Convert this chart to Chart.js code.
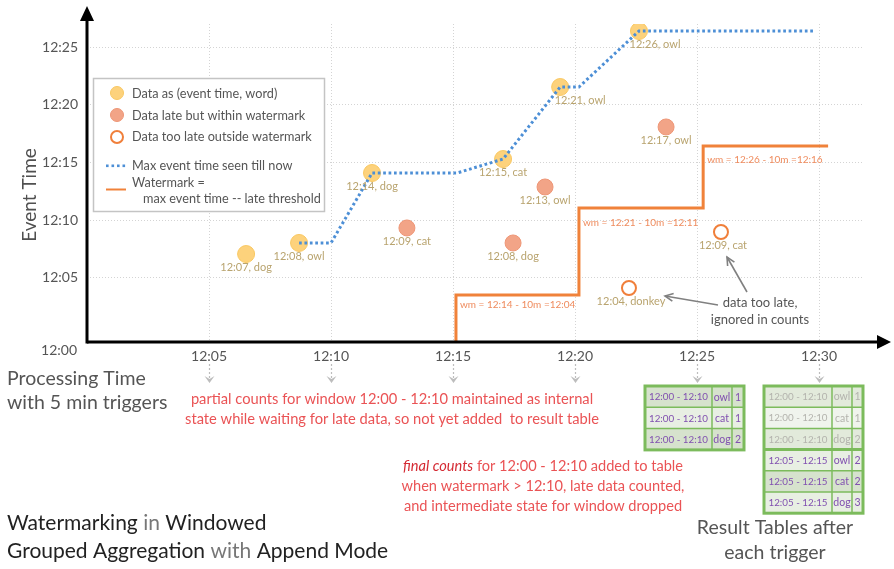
<!DOCTYPE html>
<html>
<head>
<meta charset="utf-8">
<script src="https://cdn.jsdelivr.net/npm/chart.js@4.4.1/dist/chart.umd.min.js"></script>
<style>
  html, body { margin: 0; padding: 0; background: #ffffff; }
  #wrap { position: relative; width: 894px; height: 569px; }
</style>
</head>
<body>
<div id="wrap"><canvas id="c"></canvas></div>
<script>
// ---------- data (minutes after 12:00) ----------
const xTickValues = [5, 10, 15, 20, 25, 30];
const xTickLabels = ['12:05', '12:10', '12:15', '12:20', '12:25', '12:30'];
const yTickValues = [5, 10, 15, 20, 25];
const yTickLabels = ['12:05', '12:10', '12:15', '12:20', '12:25'];
const originLabel = '12:00';

// on-time data: processing time / event time
const onTimeProc  = [6.52, 8.69, 11.68, 17.05, 19.39, 22.62];
const onTimeEvent = [7.07, 8.03, 14.09, 15.30, 21.54, 26.39];
const onTimeLabels = ['12:07, dog', '12:08, owl', '12:14, dog', '12:15, cat', '12:21, owl', '12:26, owl'];

// late but within watermark
const lateProc  = [13.11, 17.46, 18.77, 23.73];
const lateEvent = [9.33, 8.03, 12.88, 18.08];
const lateLabels = ['12:09, cat', '12:08, dog', '12:13, owl', '12:17, owl'];

// too late, outside watermark
const droppedProc  = [22.21, 25.98];
const droppedEvent = [4.13, 8.98];
const droppedLabels = ['12:04, donkey', '12:09, cat'];

// max event time seen till now
const maxEventProc  = [8.69, 10.0, 11.68, 15.16, 17.05, 19.39, 20.16, 22.62, 29.8];
const maxEventValue = [8.03, 8.03, 14.09, 14.09, 15.30, 21.54, 21.54, 26.39, 26.39];

// watermark step line
const watermarkProc  = [15.12, 15.12, 20.16, 20.16, 25.25, 25.25, 30.37];
const watermarkValue = [-0.55, 3.52, 3.52, 11.06, 11.06, 16.43, 16.43];
const watermarkLabels = ['wm = 12:14 - 10m =12:04', 'wm = 12:21 - 10m =12:11', 'wm = 12:26 - 10m =12:16'];

// legend texts
const legendTexts = ['Data as (event time, word)', 'Data late but within watermark', 'Data too late outside watermark',
  'Max event time seen till now', 'Watermark =', 'max event time -- late threshold'];

// result tables
const table1Rows = [['12:00 - 12:10', 'owl', '1'], ['12:00 - 12:10', 'cat', '1'], ['12:00 - 12:10', 'dog', '2']];
const table2Rows = [['12:00 - 12:10', 'owl', '1'], ['12:00 - 12:10', 'cat', '1'], ['12:00 - 12:10', 'dog', '2'],
                    ['12:05 - 12:15', 'owl', '2'], ['12:05 - 12:15', 'cat', '2'], ['12:05 - 12:15', 'dog', '3']];

// ---------- helpers ----------
const toXY = (xs, ys) => xs.map((x, i) => ({ x: x, y: ys[i] }));
const FONT = 'Lato, "Open Sans", sans-serif';
Chart.defaults.font.family = FONT;

function arrowHead(ctx, x1, y1, x2, y2, size) {
  const a = Math.atan2(y2 - y1, x2 - x1);
  ctx.beginPath();
  ctx.moveTo(x2 - size * Math.cos(a - 0.45), y2 - size * Math.sin(a - 0.45));
  ctx.lineTo(x2, y2);
  ctx.lineTo(x2 - size * Math.cos(a + 0.45), y2 - size * Math.sin(a + 0.45));
  ctx.stroke();
}

const decorPlugin = {
  id: 'decor',
  afterDatasetsDraw(chart) {
    const ctx = chart.ctx;
    const xs = chart.scales.x, ys = chart.scales.y;
    ctx.save();
    ctx.textBaseline = 'middle';
    // point labels
    ctx.font = '11px ' + FONT;
    ctx.fillStyle = '#b9a46f';
    ctx.textAlign = 'center';
    const shiftOnTime = [0, 0, 0, 0, 20, 16];
    onTimeLabels.forEach((t, i) => {
      ctx.fillText(t, xs.getPixelForValue(onTimeProc[i]) + shiftOnTime[i], ys.getPixelForValue(onTimeEvent[i]) + 13);
    });
    lateLabels.forEach((t, i) => {
      ctx.fillText(t, xs.getPixelForValue(lateProc[i]), ys.getPixelForValue(lateEvent[i]) + 13);
    });
    droppedLabels.forEach((t, i) => {
      ctx.fillText(t, xs.getPixelForValue(droppedProc[i]) + 2, ys.getPixelForValue(droppedEvent[i]) + 13);
    });
    // watermark labels
    ctx.font = '10px ' + FONT;
    ctx.fillStyle = '#ef8c5e';
    ctx.textAlign = 'left';
    const wmDy = [10, 15, 14];
    watermarkLabels.forEach((t, k) => {
      const i = 1 + 2 * k;
      ctx.fillText(t, xs.getPixelForValue(watermarkProc[i]) + 4, ys.getPixelForValue(watermarkValue[i]) + wmDy[k]);
    });
    ctx.restore();
  },
  afterDraw(chart) {
    const ctx = chart.ctx;
    const xs = chart.scales.x;
    const ca = chart.chartArea;
    ctx.save();

    // axes with arrows
    ctx.strokeStyle = '#000'; ctx.fillStyle = '#000'; ctx.lineWidth = 3;
    ctx.beginPath(); ctx.moveTo(ca.left, ca.bottom); ctx.lineTo(880, ca.bottom); ctx.stroke();
    ctx.beginPath(); ctx.moveTo(891, ca.bottom); ctx.lineTo(877, ca.bottom - 7); ctx.lineTo(877, ca.bottom + 7); ctx.closePath(); ctx.fill();
    ctx.beginPath(); ctx.moveTo(ca.left, ca.bottom + 1.5); ctx.lineTo(ca.left, 18); ctx.stroke();
    ctx.beginPath(); ctx.moveTo(ca.left, 6); ctx.lineTo(ca.left - 7, 21); ctx.lineTo(ca.left + 7, 21); ctx.closePath(); ctx.fill();

    // origin label
    ctx.textBaseline = 'middle';
    ctx.font = '14px ' + FONT; ctx.fillStyle = '#555'; ctx.textAlign = 'right';
    ctx.fillText(originLabel, 77, 350);

    // y axis title
    ctx.save();
    ctx.translate(30, 195); ctx.rotate(-Math.PI / 2);
    ctx.textAlign = 'center'; ctx.font = '19px ' + FONT; ctx.fillStyle = '#505050';
    ctx.fillText('Event Time', 0, 0);
    ctx.restore();

    // trigger arrows under x ticks
    ctx.strokeStyle = '#bdbdbd'; ctx.fillStyle = '#bdbdbd'; ctx.lineWidth = 1.2;
    xTickValues.forEach(v => {
      const px = Math.round(xs.getPixelForValue(v)) + 0.5;
      ctx.setLineDash([2, 2]);
      ctx.beginPath(); ctx.moveTo(px, 364); ctx.lineTo(px, 380); ctx.stroke();
      ctx.setLineDash([]);
      ctx.beginPath(); ctx.moveTo(px - 5, 376); ctx.lineTo(px, 383); ctx.lineTo(px + 5, 376); ctx.lineTo(px, 379); ctx.closePath(); ctx.fill();
    });

    // legend box
    ctx.fillStyle = '#ffffff'; ctx.strokeStyle = '#c4c4c4'; ctx.lineWidth = 1.5;
    ctx.fillRect(93, 78, 231, 133); ctx.strokeRect(93.5, 78.5, 231, 133);
    ctx.beginPath(); ctx.arc(117, 93, 6.5, 0, Math.PI * 2); ctx.fillStyle = '#fdd27c'; ctx.fill();
    ctx.lineWidth = 1; ctx.strokeStyle = '#f9c862'; ctx.stroke();
    ctx.beginPath(); ctx.arc(117, 115, 6.5, 0, Math.PI * 2); ctx.fillStyle = '#f2a487'; ctx.fill();
    ctx.strokeStyle = '#ee9676'; ctx.stroke();
    ctx.beginPath(); ctx.arc(117, 137, 6, 0, Math.PI * 2); ctx.fillStyle = '#fff'; ctx.fill();
    ctx.lineWidth = 2; ctx.strokeStyle = '#f07f3a'; ctx.stroke();
    ctx.fillStyle = '#4d8fd6';
    for (let k = 0; k < 4; k++) ctx.fillRect(106 + k * 5.5, 164.5, 2.6, 2.6);
    ctx.strokeStyle = '#f0823a'; ctx.lineWidth = 2;
    ctx.beginPath(); ctx.moveTo(106, 189.5); ctx.lineTo(126, 189.5); ctx.stroke();
    ctx.font = '12.7px ' + FONT; ctx.fillStyle = '#555'; ctx.textAlign = 'left';
    ctx.fillText(legendTexts[0], 132, 94);
    ctx.fillText(legendTexts[1], 132, 116);
    ctx.fillText(legendTexts[2], 132, 137);
    ctx.fillText(legendTexts[3], 132, 166);
    ctx.fillText(legendTexts[4], 132, 183);
    ctx.fillText(legendTexts[5], 143, 199);

    // "data too late" annotation
    ctx.font = '13px ' + FONT; ctx.fillStyle = '#555'; ctx.textAlign = 'center';
    ctx.fillText('data too late,', 760, 303);
    ctx.fillText('ignored in counts', 760, 320);
    ctx.strokeStyle = '#808080'; ctx.lineWidth = 1.6;
    ctx.beginPath(); ctx.moveTo(718, 305); ctx.lineTo(665, 296); ctx.stroke();
    arrowHead(ctx, 718, 305, 665, 296, 9);
    ctx.beginPath(); ctx.moveTo(747, 292); ctx.lineTo(727, 257); ctx.stroke();
    arrowHead(ctx, 747, 292, 727, 257, 9);

    // bottom-left texts
    ctx.textAlign = 'left';
    ctx.font = '19.5px ' + FONT; ctx.fillStyle = '#555';
    ctx.fillText('Processing Time', 7, 379);
    ctx.fillText('with 5 min triggers', 7, 403);

    // title
    ctx.font = '21px ' + FONT;
    const drawParts = (parts, x, y) => {
      parts.forEach(p => { ctx.fillStyle = p[1]; ctx.fillText(p[0], x, y); x += ctx.measureText(p[0]).width; });
    };
    drawParts([['Watermarking', '#222'], [' in ', '#777'], ['Windowed', '#222']], 7, 523);
    drawParts([['Grouped Aggregation', '#222'], [' with ', '#777'], ['Append Mode', '#222']], 7, 551);

    // red explanations
    ctx.font = '14.7px ' + FONT; ctx.fillStyle = '#ea5355'; ctx.textAlign = 'center';
    ctx.fillText('partial counts for window 12:00 - 12:10 maintained as internal', 392, 399);
    ctx.fillText('state while waiting for late data, so not yet added  to result table', 392, 419);
    ctx.textAlign = 'left';
    const l1a = 'final counts', l1b = ' for 12:00 - 12:10 added to table';
    ctx.font = 'italic 14.6px ' + FONT; const wa = ctx.measureText(l1a).width;
    ctx.font = '14.6px ' + FONT; const wb = ctx.measureText(l1b).width;
    const sx = 543 - (wa + wb) / 2;
    ctx.font = 'italic 14.6px ' + FONT; ctx.fillStyle = '#d42a33'; ctx.fillText(l1a, sx, 466);
    ctx.font = '14.6px ' + FONT; ctx.fillStyle = '#ea5355'; ctx.fillText(l1b, sx + wa, 466);
    ctx.textAlign = 'center';
    ctx.fillText('when watermark > 12:10, late data counted,', 543, 486);
    ctx.fillText('and intermediate state for window dropped', 543, 506);

    // result tables
    const drawTable = (rows, x0, y0, colW, rowH, fadedRows) => {
      const w = colW.reduce((a, b) => a + b, 0);
      rows.forEach((r, i) => {
        const faded = i < fadedRows;
        ctx.fillStyle = faded ? (i % 2 ? '#f0f4ed' : '#e2eadb') : (i % 2 ? '#e8efe3' : '#d6e2cd');
        ctx.fillRect(x0, y0 + i * rowH, w, rowH);
        ctx.textAlign = 'center';
        ctx.fillStyle = faded ? '#b3b3ad' : '#8150b0';
        let cx = x0;
        r.forEach((cell, j) => {
          ctx.font = (j === 0 ? '9.8px ' : '10.5px ') + FONT;
          ctx.fillText(cell, cx + colW[j] / 2, y0 + i * rowH + rowH / 2 + 0.5);
          cx += colW[j];
        });
      });
      ctx.strokeStyle = '#7cbb5c';
      for (let i = 1; i < rows.length; i++) {
        ctx.lineWidth = (fadedRows && i === fadedRows) ? 3 : 1.5;
        ctx.beginPath(); ctx.moveTo(x0, y0 + i * rowH); ctx.lineTo(x0 + w, y0 + i * rowH); ctx.stroke();
      }
      ctx.lineWidth = 1.5;
      let cx = x0;
      for (let j = 0; j < colW.length - 1; j++) {
        cx += colW[j];
        ctx.beginPath(); ctx.moveTo(cx, y0); ctx.lineTo(cx, y0 + rows.length * rowH); ctx.stroke();
      }
      ctx.lineWidth = 3;
      ctx.strokeRect(x0, y0, w, rows.length * rowH);
    };
    drawTable(table1Rows, 645, 386, [67, 20, 12], 21.3, 0);
    drawTable(table2Rows, 764, 386, [68, 20, 11], 21.2, 3);

    ctx.font = '19.5px ' + FONT; ctx.fillStyle = '#555'; ctx.textAlign = 'center';
    ctx.fillText('Result Tables after', 775, 528);
    ctx.fillText('each trigger', 775, 553);

    ctx.restore();
  }
};

const gridStyle = { color: '#d4d4d4', lineWidth: 1, drawTicks: false, tickLength: 0 };

new Chart(document.getElementById('c'), {
  type: 'scatter',
  data: {
    datasets: [
      { label: 'Max event time seen till now', type: 'line', data: toXY(maxEventProc, maxEventValue),
        borderColor: '#4d8fd6', borderWidth: 3, borderDash: [2.7, 2.7], pointRadius: 0, fill: false, tension: 0 },
      { label: 'Watermark', type: 'line', data: toXY(watermarkProc, watermarkValue),
        borderColor: '#f0823a', borderWidth: 3, pointRadius: 0, fill: false, tension: 0, borderJoinStyle: 'miter' },
      { label: 'Data as (event time, word)', data: toXY(onTimeProc, onTimeEvent),
        backgroundColor: '#fdd27c', borderColor: '#f9c862', borderWidth: 1, pointRadius: 8.5 },
      { label: 'Data late but within watermark', data: toXY(lateProc, lateEvent),
        backgroundColor: '#f2a487', borderColor: '#ee9676', borderWidth: 1, pointRadius: 8 },
      { label: 'Data too late outside watermark', data: toXY(droppedProc, droppedEvent),
        backgroundColor: '#ffffff', borderColor: '#f07f3a', borderWidth: 2, pointRadius: 7 }
    ]
  },
  options: {
    responsive: true,
    maintainAspectRatio: false,
    animation: false,
    devicePixelRatio: 1,
    layout: { padding: { left: 0, top: 24, right: 31, bottom: 197 } },
    plugins: { legend: { display: false }, tooltip: { enabled: false } },
    scales: {
      x: {
        type: 'linear', min: 0, max: 31.8,
        afterBuildTicks: s => { s.ticks = xTickValues.map(v => ({ value: v })); },
        afterFit: s => { s.height = 30; },
        ticks: { callback: v => xTickLabels[xTickValues.indexOf(v)] ?? '', color: '#555', font: { size: 14 }, padding: 6, maxRotation: 0, autoSkip: false },
        grid: gridStyle,
        border: { display: false, dash: [1, 2] }
      },
      y: {
        type: 'linear', min: -0.55, max: 27.0,
        afterBuildTicks: s => { s.ticks = yTickValues.map(v => ({ value: v })); },
        afterFit: s => { s.width = 87; },
        ticks: { callback: v => yTickLabels[yTickValues.indexOf(v)] ?? '', color: '#555', font: { size: 14 }, padding: 9, autoSkip: false },
        grid: gridStyle,
        border: { display: false, dash: [1, 2] }
      }
    }
  },
  plugins: [decorPlugin]
});
</script>
</body>
</html>
